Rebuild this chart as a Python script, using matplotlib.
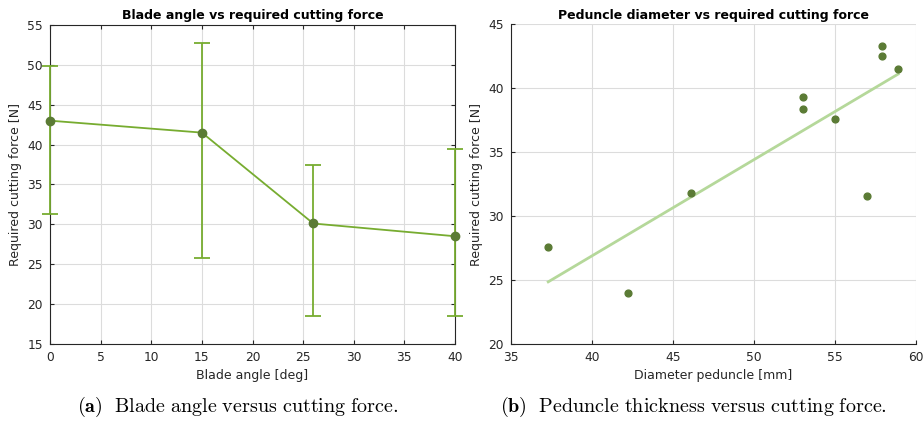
import matplotlib.pyplot as plt
import numpy as np

# blade angle data
angle = [0, 15, 26, 40]
force_mean = [43.0, 41.5, 30.1, 28.5]
force_hi = [49.8, 52.7, 37.4, 39.4]
force_lo = [31.3, 25.8, 18.5, 18.5]

# peduncle data
diam = [37.3, 42.2, 46.1, 53.0, 53.0, 55.0, 57.0, 57.9, 57.9, 58.9]
force_ped = [27.6, 24.0, 31.8, 39.3, 38.4, 37.6, 31.6, 43.3, 42.5, 41.5]
fit_x = [37.3, 58.9]
fit_y = [24.85, 41.1]

line_green = '#77ac30'
dot_green = '#5b7b35'
fit_green = '#b5d89a'
axc = '#262626'

plt.rcParams['font.family'] = 'DejaVu Sans'
plt.rcParams['mathtext.fontset'] = 'cm'
fig = plt.figure(figsize=(9.23, 4.24), dpi=100)

def style(ax, box):
    ax.grid(True, color='#dcdcdc', linewidth=0.8)
    ax.set_axisbelow(True)
    for s in ['left', 'bottom']:
        ax.spines[s].set_color(axc)
    if box:
        ax.spines['top'].set_color(axc)
        ax.spines['right'].set_color(axc)
        ax.tick_params(direction='in', top=True, right=True, length=3, colors=axc, labelsize=8.8, pad=5)
    else:
        ax.spines['top'].set_visible(False)
        ax.spines['right'].set_visible(False)
        ax.tick_params(direction='in', length=3, colors=axc, labelsize=8.8, pad=5)

# ---- left: blade angle ----
ax1 = fig.add_axes([0.0542, 0.189, 0.4388, 0.752])
yerr = [np.array(force_mean) - np.array(force_lo), np.array(force_hi) - np.array(force_mean)]
eb = ax1.errorbar(angle, force_mean, yerr=yerr, color=line_green, linewidth=1.3,
                  capsize=6, capthick=1.3, elinewidth=1.3, marker='o', markersize=6,
                  markerfacecolor=dot_green, markeredgecolor=dot_green, zorder=3)
for a in eb.lines[1] + eb.lines[2]:
    a.set_clip_on(False)
eb.lines[0].set_clip_on(False)
ax1.set_xlim(0, 40)
ax1.set_ylim(15, 55)
ax1.set_xticks(np.arange(0, 41, 5))
ax1.set_yticks(np.arange(15, 56, 5))
ax1.set_title('Blade angle vs required cutting force', fontsize=9, fontweight='bold', pad=4)
ax1.set_xlabel('Blade angle [deg]', fontsize=9, color=axc, labelpad=4)
ax1.set_ylabel('Required cutting force [N]', fontsize=9, color=axc, labelpad=4)
style(ax1, True)

# ---- right: peduncle diameter ----
ax2 = fig.add_axes([0.5536, 0.189, 0.4388, 0.754])
ax2.plot(fit_x, fit_y, color=fit_green, linewidth=2)
ax2.scatter(diam, force_ped, s=24, color=dot_green, zorder=3)
ax2.set_xlim(35, 60)
ax2.set_ylim(20, 45)
ax2.set_xticks(np.arange(35, 61, 5))
ax2.set_yticks(np.arange(20, 46, 5))
ax2.set_title('Peduncle diameter vs required cutting force', fontsize=9, fontweight='bold', pad=4)
ax2.set_xlabel('Diameter peduncle [mm]', fontsize=9, color=axc, labelpad=4)
ax2.set_ylabel('Required cutting force [N]', fontsize=9, color=axc, labelpad=4)
style(ax2, False)

# captions
fig.text(0.258, 0.040, r'$\mathbf{(a)}\ \ \mathrm{Blade\ angle\ versus\ cutting\ force.}$',
         ha='center', va='center', fontsize=14.5)
fig.text(0.7514, 0.040, r'$\mathbf{(b)}\ \ \mathrm{Peduncle\ thickness\ versus\ cutting\ force.}$',
         ha='center', va='center', fontsize=14.5)

fig.savefig('out.png', dpi=100)
